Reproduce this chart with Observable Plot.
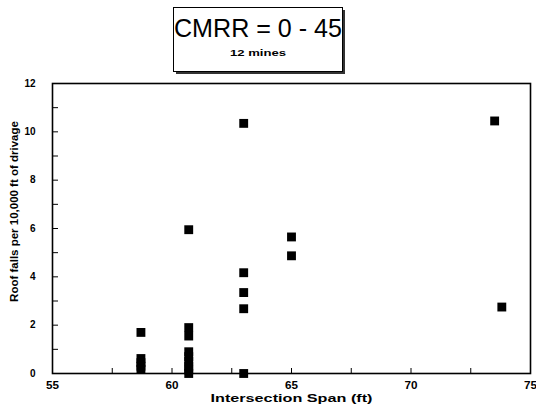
<!DOCTYPE html>
<html><head><meta charset="utf-8">
<script src="https://cdn.jsdelivr.net/npm/d3@7"></script>
<script src="https://cdn.jsdelivr.net/npm/@observablehq/plot@0.6"></script>
<style>
body{margin:0;background:#fff;font-family:"Liberation Sans",Arial,sans-serif;}
#wrap{position:relative;width:536px;height:410px;overflow:hidden;}
#head{display:block;}
#chart svg{display:block;overflow:visible;}
</style>
</head><body>
<div id="wrap">
<svg id="head" width="536" height="76">
  <rect x="176" y="10" width="169" height="64" fill="#333"/>
  <rect x="173.5" y="7.5" width="169" height="64" fill="#fff" stroke="#000" stroke-width="1"/>
  <text x="258" y="36.5" text-anchor="middle" font-family="Liberation Sans, Arial, sans-serif" font-size="25" fill="#000" textLength="168" lengthAdjust="spacingAndGlyphs">CMRR = 0 - 45</text>
  <text x="258" y="56" text-anchor="middle" font-family="Liberation Sans, Arial, sans-serif" font-size="9.5" font-weight="bold" fill="#000" textLength="56" lengthAdjust="spacingAndGlyphs">12 mines</text>
</svg>
<div id="chart"></div>
</div>
<script>
// Data
const span  = [58.7, 58.7, 58.7, 58.7, 58.7,
               60.7, 60.7, 60.7, 60.7, 60.7, 60.7, 60.7, 60.7, 60.7,
               63.0, 63.0, 63.0, 63.0, 63.0,
               65.0, 65.0,
               73.5, 73.8];
const falls = [1.7, 0.62, 0.45, 0.3, 0.17,
               5.95, 1.9, 1.55, 0.9, 0.7, 0.5, 0.3, 0.15, 0.0,
               10.35, 4.17, 3.35, 2.68, 0.0,
               5.65, 4.87,
               10.45, 2.75];
const xLabelTicks = [55, 60, 65, 70, 75];
const xMarkTicks  = [57.5, 60, 62.5, 65, 67.5, 70, 72.5];
const yLabelTicks = [0, 2, 4, 6, 8, 10, 12];
const yMarkTicks  = [1, 2, 3, 4, 5, 6, 7, 8, 9, 10, 11];
const xTitle = "Intersection Span (ft)";
const yTitle = "Roof falls per 10,000 ft of drivage";

const points = span.map((x, i) => ({x, y: falls[i]}));

const chart = Plot.plot({
  width: 536,
  height: 334,
  marginTop: 7,
  marginBottom: 37,
  marginLeft: 52,
  marginRight: 6,
  x: {domain: [55, 75]},
  y: {domain: [0, 12]},
  style: {fontFamily: "Liberation Sans, Arial, sans-serif", fontSize: "10px", color: "#000", background: "transparent"},
  marks: [
    Plot.axisX(xLabelTicks, {tickSize: 0, tickPadding: 8, label: null, fill: "#000", fontSize: 10, fontWeight: "bold", className: "xticks"}),
    Plot.axisX(xMarkTicks, {tickSize: -5, text: null, label: null, stroke: "#000"}),
    Plot.axisY(yLabelTicks, {tickSize: 0, tickPadding: 17, label: null, fill: "#000", fontSize: 10, fontWeight: "bold"}),
    Plot.axisY(yMarkTicks, {tickSize: -6, text: null, label: null, stroke: "#000"}),
    Plot.frame({stroke: "#000", strokeWidth: 1.6}),
    Plot.dot(points, {x: "x", y: "y", symbol: "square", r: 5, fill: "#000", stroke: null}),
    Plot.text([xTitle], {frameAnchor: "bottom", dy: 28, fontSize: 11, fontWeight: "bold", fill: "#000", className: "xtitle"}),
    Plot.text([yTitle], {frameAnchor: "left", dx: -38, dy: -17, rotate: -90, textAnchor: "middle", fontSize: 11.5, fontWeight: "bold", fill: "#000"})
  ]
});
document.getElementById("chart").appendChild(chart);
d3.select(chart).selectAll(".xtitle text").attr("textLength", 162).attr("lengthAdjust", "spacingAndGlyphs");
d3.select(chart).selectAll(".xticks text").each(function() {
  const n = this.textContent.length;
  d3.select(this).attr("textLength", 6.5 * n).attr("lengthAdjust", "spacingAndGlyphs");
});
</script>
</body></html>
